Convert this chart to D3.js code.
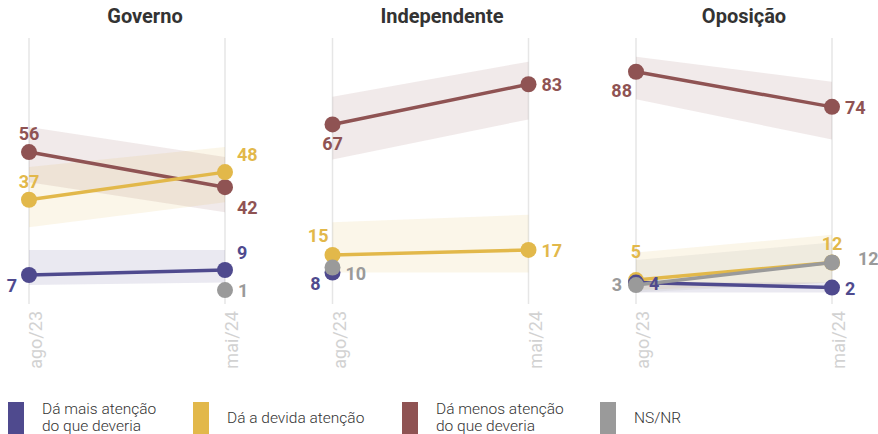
<!DOCTYPE html>
<html><head><meta charset="utf-8">
<script src="https://cdn.jsdelivr.net/npm/d3@7"></script>
<style>
html,body{margin:0;padding:0;background:#fff;}
svg{display:block;font-family:Roboto, "Noto Sans", sans-serif;}
</style></head>
<body><svg id="c" width="878" height="434"></svg>
<script>
// ---- data ----
const panels = ["Governo", "Independente", "Oposição"];
const periods = ["ago/23", "mai/24"];
const seriesNames = ["Dá mais atenção do que deveria", "Dá a devida atenção", "Dá menos atenção do que deveria", "NS/NR"];
const legendLines = [["Dá mais atenção", "do que deveria"], ["Dá a devida atenção"], ["Dá menos atenção", "do que deveria"], ["NS/NR"]];
const seriesColors = ["#4f4a8e", "#e2b84a", "#8f5353", "#9a9a9a"];

// values[panel][series] = [ago/23, mai/24]
const governoValues = [[7, 9], [37, 48], [56, 42], [null, 1]];
const independenteValues = [[8, null], [15, 17], [67, 83], [10, null]];
const oposicaoValues = [[4, 2], [5, 12], [88, 74], [3, 12]];
const values = [governoValues, independenteValues, oposicaoValues];

// uncertainty bands (low / high) per series
const governoLow = [[3, 4], [26, 36], [44, 32], null];
const governoHigh = [[17, 17], [50, 58], [66, 54], null];
const independenteLow = [null, [8, 8], [53, 69], null];
const independenteHigh = [null, [28, 31], [78, 92], null];
const oposicaoLow = [[0, 0], [1, 4], [77, 61], [0, 4]];
const oposicaoHigh = [[4, 4], [16, 23], [94, 84], [13, 20]];
const bandLow = [governoLow, independenteLow, oposicaoLow];
const bandHigh = [governoHigh, independenteHigh, oposicaoHigh];

// label placement codes per point
const governoPlace = [["bl", "tr"], ["t", "tr"], ["t", "br"], [null, "r"]];
const independentePlace = [["bl", null], ["tl", "r"], ["b", "r"], ["r2", null]];
const oposicaoPlace = [["r", "r"], ["tt", "t"], ["bl2", "r"], ["l", "rr"]];
const labelPlace = [governoPlace, independentePlace, oposicaoPlace];

// ---- layout ----
const placements = {
  t:   {dx: 0,   dy: -12, a: "middle"},
  tt:  {dx: 0,   dy: -22, a: "middle"},
  tr:  {dx: 12,  dy: -11, a: "start"},
  br:  {dx: 12,  dy: 27,  a: "start"},
  bl:  {dx: -12, dy: 17,  a: "end"},
  bl2: {dx: -4,  dy: 25,  a: "end"},
  b:   {dx: 0,   dy: 26,  a: "middle"},
  r:   {dx: 13,  dy: 7,   a: "start"},
  r2:  {dx: 13,  dy: 12,  a: "start"},
  l:   {dx: -14, dy: 6,   a: "end"},
  tl:  {dx: -4,  dy: -13, a: "end"},
  rr:  {dx: 26,  dy: 3,   a: "start"}
};
const titleX = [145, 442, 744];
const panelLeft = [29, 332.5, 636];
const panelW = 196;

const svg = d3.select("#c");
const y = d3.scaleLinear().domain([0, 100]).range([292.6, 41.6]);
const drawOrder = [2, 1, 0, 3];

panels.forEach((name, p) => {
  const x = d3.scalePoint().domain(periods).range([panelLeft[p], panelLeft[p] + panelW]);
  const g = svg.append("g");

  g.append("text").attr("x", titleX[p]).attr("y", 23).attr("text-anchor", "middle")
    .attr("font-size", 20).attr("font-weight", 700).attr("fill", "#333").text(name);

  // gridlines
  periods.forEach(per => {
    g.append("line").attr("x1", x(per)).attr("x2", x(per)).attr("y1", 38).attr("y2", 304)
      .attr("stroke", "#e6e6e6").attr("stroke-width", 1.5);
    g.append("text").attr("transform", `translate(${x(per) + 13},311) rotate(-90)`)
      .attr("text-anchor", "end").attr("font-size", 18).attr("fill", "#d2d2d2").text(per);
  });

  // bands
  drawOrder.forEach(s => {
    const lo = bandLow[p][s], hi = bandHigh[p][s];
    if (!lo) return;
    const pts = periods.map((per, i) => ({per, lo: lo[i], hi: hi[i]}));
    const area = d3.area().x(d => x(d.per)).y0(d => y(d.lo)).y1(d => y(d.hi));
    g.append("path").attr("d", area(pts)).attr("fill", seriesColors[s]).attr("fill-opacity", 0.12);
  });

  // lines and dots
  drawOrder.forEach(s => {
    const v = values[p][s];
    const pts = periods.map((per, i) => ({per, v: v[i]})).filter(d => d.v != null);
    if (pts.length > 1) {
      const line = d3.line().x(d => x(d.per)).y(d => y(d.v));
      g.append("path").attr("d", line(pts)).attr("fill", "none")
        .attr("stroke", seriesColors[s]).attr("stroke-width", 3.5);
    }
    pts.forEach(d => {
      g.append("circle").attr("cx", x(d.per)).attr("cy", y(d.v)).attr("r", 8)
        .attr("fill", seriesColors[s]);
    });
  });

  // labels
  drawOrder.forEach(s => {
    const v = values[p][s];
    periods.forEach((per, i) => {
      if (v[i] == null) return;
      const pl = placements[labelPlace[p][s][i]];
      g.append("text").attr("x", x(per) + pl.dx).attr("y", y(v[i]) + pl.dy)
        .attr("text-anchor", pl.a).attr("font-size", 18).attr("font-weight", 700)
        .attr("fill", seriesColors[s]).text(v[i]);
    });
  });
});

// legend
const legendX = [8, 193, 402, 600];
const lg = svg.append("g");
seriesNames.forEach((n, s) => {
  lg.append("rect").attr("x", legendX[s]).attr("y", 402).attr("width", 16).attr("height", 40)
    .attr("fill", seriesColors[s]);
  const lines = legendLines[s];
  lines.forEach((ln, k) => {
    const base = lines.length === 1 ? 423 : 414 + k * 17;
    lg.append("text").attr("x", legendX[s] + 34).attr("y", base)
      .attr("font-size", 15.5).attr("font-weight", 300).attr("fill", "#333").text(ln);
  });
});
</script></body></html>
